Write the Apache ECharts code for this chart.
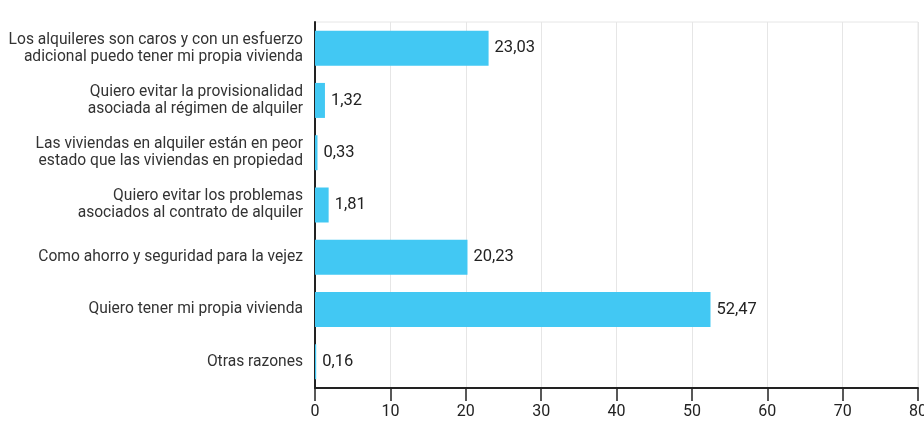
<!DOCTYPE html>
<html>
<head>
<meta charset="utf-8">
<script src="https://cdn.jsdelivr.net/npm/echarts@6/dist/echarts.min.js"></script>
<style>html,body{margin:0;padding:0;background:#fff}#c{width:924px;height:423px}</style>
</head>
<body>
<div id="c"></div>
<script>
var categories = [
  "Los alquileres son caros y con un esfuerzo\nadicional puedo tener mi propia vivienda",
  "Quiero evitar la provisionalidad\nasociada al régimen de alquiler",
  "Las viviendas en alquiler están en peor\nestado que las viviendas en propiedad",
  "Quiero evitar los problemas\nasociados al contrato de alquiler",
  "Como ahorro y seguridad para la vejez",
  "Quiero tener mi propia vivienda",
  "Otras razones"
];
var values = [23.03, 1.32, 0.33, 1.81, 20.23, 52.47, 0.16];
var xTicks = [0, 10, 20, 30, 40, 50, 60, 70, 80];

var chart = echarts.init(document.getElementById('c'), null, {renderer: 'canvas'});
var font = 'Roboto, "Noto Sans", sans-serif';
chart.setOption({
  animation: false,
  grid: {left: 315, right: 6, top: 22, bottom: 35, show: true, borderColor: '#e6e6e6', borderWidth: 1,
         outerBoundsMode: 'none', containLabel: false},
  xAxis: {
    type: 'value', min: xTicks[0], max: xTicks[xTicks.length - 1], interval: 10,
    axisLine: {show: true, lineStyle: {color: '#222', width: 2}},
    axisTick: {show: true, length: 13, lineStyle: {color: '#222', width: 1.5}},
    axisLabel: {color: '#222', fontSize: 16, fontFamily: font, margin: 16},
    splitLine: {show: true, lineStyle: {color: '#e6e6e6', width: 1}}
  },
  yAxis: {
    type: 'category', data: categories, inverse: true,
    axisLine: {show: true, lineStyle: {color: '#222', width: 2}},
    axisTick: {show: false},
    axisLabel: {color: '#333', fontSize: 15.6, fontFamily: font, margin: 12, lineHeight: 17, align: 'right'},
    splitLine: {show: false}
  },
  series: [{
    type: 'bar', data: values, barWidth: 35,
    itemStyle: {color: '#42c8f3'},
    label: {
      show: true, position: 'right', distance: 6, color: '#222', fontSize: 16.5, fontFamily: font,
      formatter: function (p) { return p.value.toFixed(2).replace('.', ','); }
    }
  }]
});
</script>
</body>
</html>
